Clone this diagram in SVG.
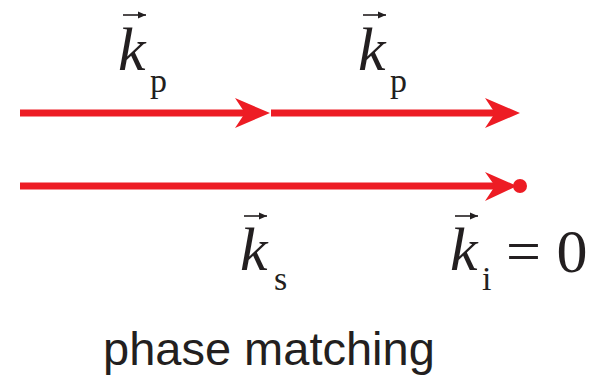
<svg xmlns="http://www.w3.org/2000/svg" width="597" height="382" viewBox="0 0 597 382">
<style>
.beam{stroke:#ED1C24;stroke-width:7;fill:none}
.head{fill:#ED1C24}
.k{font-family:"Liberation Serif",serif;font-style:italic;font-size:62px;fill:#231F20}
.sub{font-family:"Liberation Serif",serif;font-size:34px;fill:#231F20}
.eq{font-family:"Liberation Serif",serif;font-size:62px;fill:#231F20}
.vec{stroke:#231F20;stroke-width:1.6;fill:none}
.cap{font-family:"Liberation Sans",Arial,sans-serif;font-size:47px;fill:#231F20}
</style>
<defs>
<marker id="va" markerWidth="9" markerHeight="9" refX="8" refY="4.5" orient="auto" markerUnits="userSpaceOnUse">
<path d="M0,1 L8,4.5 L0,8 Z" fill="#231F20"/>
</marker>
</defs>
<g id="connectors">
<g id="kp1-arrow">
<line class="beam" x1="20" y1="113" x2="245" y2="113"/>
<polygon class="head" points="270,113 235,98 245,113 235,128"/>
</g>
<g id="kp2-arrow">
<line class="beam" x1="271" y1="113" x2="495" y2="113"/>
<polygon class="head" points="520,113 485,98 495,113 485,128"/>
</g>
<g id="ks-arrow">
<line class="beam" x1="20" y1="186" x2="495" y2="186"/>
<polygon class="head" points="517,186 485,172 495,186 485,201"/>
<circle class="head" cx="520" cy="186" r="7"/>
</g>
</g>
<g id="label-kp1">
<line class="vec" x1="123" y1="15" x2="146" y2="15" marker-end="url(#va)"/>
<text class="k" x="118" y="70">k</text>
<text class="sub" x="150" y="92">p</text>
</g>
<g id="label-kp2">
<line class="vec" x1="363" y1="15" x2="386" y2="15" marker-end="url(#va)"/>
<text class="k" x="358" y="70">k</text>
<text class="sub" x="390" y="92">p</text>
</g>
<g id="label-ks">
<line class="vec" x1="244" y1="216" x2="267" y2="216" marker-end="url(#va)"/>
<text class="k" x="240" y="270">k</text>
<text class="sub" x="274" y="290">s</text>
</g>
<g id="label-ki">
<line class="vec" x1="455" y1="216" x2="478" y2="216" marker-end="url(#va)"/>
<text class="k" x="450" y="270">k</text>
<text class="sub" x="482" y="290">i</text>
<text class="eq" x="506" y="272">= 0</text>
</g>
<g id="caption">
<text class="cap" x="103" y="365">phase matching</text>
</g>
</svg>
